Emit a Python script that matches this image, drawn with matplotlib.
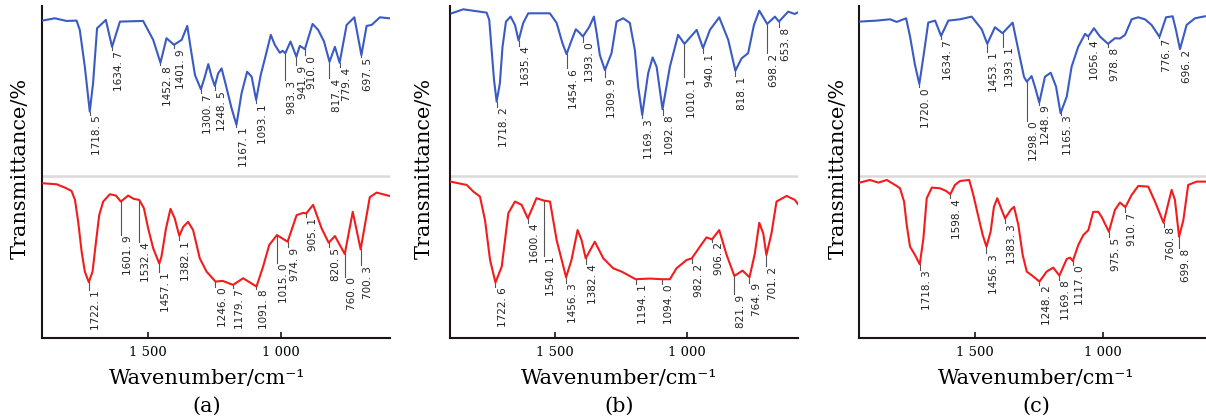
import numpy as np
import matplotlib
matplotlib.use('Agg')
import matplotlib.pyplot as plt

# ---- data (wavenumber in cm-1, transmittance in arbitrary %) ----
# panel (a)
a_top_wn = [1896, 1850, 1806, 1768, 1756, 1737, 1718.5, 1706, 1691, 1658, 1634.7, 1605,
            1518, 1480, 1452.8, 1430, 1401.9, 1373, 1352, 1340, 1323, 1300.7, 1286,
            1273, 1260.5, 1248.5, 1236, 1223, 1207, 1185.5, 1167.1, 1148, 1127, 1110,
            1093.1, 1076, 1060, 1038, 1023, 1004, 994, 983.3, 964, 941.9, 929, 910.0,
            881, 860, 838, 817.4, 797, 779.4, 753, 724, 697.5, 678, 659, 628, 593]
a_top_t = [95.6, 96.3, 95.5, 95.6, 92.8, 81.7, 68.2, 76.8, 93.3, 95.8, 87.7, 95.3,
           95.5, 89.8, 82.9, 90.3, 88.3, 89.8, 94.0, 87.7, 79.2, 74.9, 78.7,
           82.5, 78.7, 75.9, 79.7, 81.2, 76.2, 69.2, 64.2, 73.7, 80.2, 78.7,
           71.7, 79.2, 84.2, 91.3, 88.3, 85.9, 86.5, 85.8, 89.3, 84.7, 88.0, 87.0,
           94.6, 92.8, 89.3, 83.2, 87.7, 82.9, 94.3, 96.6, 85.2, 94.0, 94.3, 96.6, 96.3]
a_top_peaks = [1718.5, 1634.7, 1452.8, 1401.9, 1300.7, 1248.5, 1167.1, 1093.1,
               983.3, 941.9, 910.0, 817.4, 779.4, 697.5]
a_top_text = [67.2, 86.7, 82.2, 87.2, 73.7, 74.6, 63.6, 70.7,
              77.7, 82.2, 85.2, 78.2, 81.7, 84.7]

a_bot_wn = [1894, 1843, 1812, 1787, 1774, 1762, 1749, 1737, 1722.1, 1708, 1695, 1683,
            1668, 1643, 1620, 1601.9, 1574, 1553, 1532.4, 1515, 1499, 1480, 1457.1,
            1449, 1432, 1415, 1399, 1382.1, 1367, 1349, 1330, 1305, 1279.5, 1246.0,
            1219, 1179.7, 1142, 1091.8, 1067, 1044, 1015, 974.9, 941, 916, 905.1,
            879, 847, 820.5, 797, 760, 730, 700.3, 666, 640, 593]
a_bot_t = [46.6, 46.3, 45.3, 44.3, 41.6, 35.0, 26.0, 20.0, 16.8, 20.0, 29.0, 37.0,
           41.1, 43.3, 42.9, 41.1, 42.9, 41.9, 41.6, 39.1, 33.0, 27.0, 22.4,
           24.5, 33.0, 38.9, 36.0, 30.8, 33.5, 35.0, 32.5, 24.0, 20.0, 17.0,
           17.2, 16.0, 18.0, 15.5, 21.5, 28.0, 31.0, 29.0, 37.0, 37.7, 37.5,
           40.1, 33.0, 28.7, 30.7, 25.3, 38.0, 26.7, 42.4, 43.8, 42.8]
a_bot_peaks = [1722.1, 1601.9, 1532.4, 1457.1, 1382.1, 1246.0, 1179.7, 1091.8,
               1015.0, 974.9, 905.1, 820.5, 760.0, 700.3]
a_bot_text = [14.5, 31.0, 29.0, 20.0, 29.5, 15.5, 15.0, 14.8,
              22.5, 27.5, 36.5, 27.3, 18.5, 22.0]

# panel (b)
b_top_wn = [1888, 1844, 1756, 1746, 1737, 1728, 1718.2, 1706, 1696, 1683, 1665.5, 1649,
            1635.4, 1618, 1599, 1517.5, 1492, 1470, 1454.6, 1436, 1419.5, 1404, 1393.0,
            1369, 1351.5, 1341, 1329, 1309.9, 1285, 1266, 1241, 1216, 1197, 1184.5,
            1169.3, 1147, 1130, 1115, 1092.8, 1065, 1034, 1010.1, 964, 940.1, 914,
            879, 845, 818.1, 795, 770, 748, 728, 698.2, 669, 653.8, 619, 594, 569]
b_top_t = [97.8, 99.0, 98.0, 95.8, 86.7, 77.7, 71.2, 76.7, 87.7, 95.3, 96.8, 94.3,
           89.6, 94.9, 97.8, 97.8, 94.9, 88.8, 85.5, 89.6, 93.0, 91.8, 90.8,
           93.7, 96.8, 91.8, 85.2, 80.7, 85.8, 95.3, 96.3, 94.9, 86.7, 75.7,
           67.2, 79.7, 84.5, 81.7, 68.9, 81.7, 91.3, 88.6, 92.8, 87.3, 92.8,
           96.6, 89.8, 80.5, 84.2, 85.8, 94.3, 98.6, 94.6, 96.8, 95.3, 98.3, 97.6, 98.6]
b_top_peaks = [1718.2, 1635.4, 1454.6, 1393.0, 1309.9, 1169.3, 1092.8, 1010.1,
               940.1, 818.1, 698.2, 653.8]
b_top_text = [69.7, 88.0, 81.2, 89.2, 78.5, 66.2, 67.2, 78.5,
              85.9, 78.9, 85.9, 93.6]

b_bot_wn = [1892, 1831, 1806, 1781, 1762, 1743, 1722.6, 1699, 1674, 1649, 1624, 1600.4,
            1568, 1540.1, 1517, 1492, 1456.3, 1436, 1413, 1398, 1382.4, 1348, 1316,
            1279, 1247, 1194.1, 1140, 1094.0, 1065, 1040, 1002, 982.2, 952, 927,
            906.2, 879, 851, 821.9, 791, 764.9, 745, 728, 713, 701.2, 682, 663,
            625, 594, 575]
b_bot_t = [47.1, 46.1, 44.1, 42.6, 35.5, 23.5, 16.7, 21.5, 37.6, 41.1, 40.1, 36.0,
           42.1, 41.4, 41.1, 29.5, 18.3, 23.5, 32.5, 29.5, 24.0, 29.0, 24.0,
           21.0, 20.0, 17.7, 17.9, 17.7, 17.7, 21.0, 23.5, 24.0, 27.5, 30.3,
           29.7, 32.5, 25.0, 18.7, 20.3, 18.3, 25.3, 34.7, 31.5, 25.0, 31.5, 41.1,
           42.8, 41.6, 39.6]
b_bot_peaks = [1722.6, 1600.4, 1540.1, 1456.3, 1382.4, 1194.1, 1094.0, 982.2,
               906.2, 821.9, 764.9, 701.2]
b_bot_text = [15.5, 34.7, 24.7, 16.7, 22.3, 16.3, 16.3, 22.5,
              29.0, 13.3, 16.7, 21.7]

# panel (c)
c_top_wn = [1955, 1887, 1835, 1809, 1772, 1756.5, 1737, 1720.0, 1702, 1685, 1658, 1634.7,
            1606, 1560, 1514.5, 1475, 1453.1, 1423, 1393.1, 1353.5, 1331, 1309, 1298.0,
            1279, 1266, 1248.9, 1226.5, 1204, 1183, 1165.3, 1141, 1122, 1096, 1069,
            1056.4, 1034, 1010.5, 978.8, 951.6, 932, 912, 886, 860, 834, 808, 776.7,
            751, 725, 712, 696.2, 670, 637.5, 598]
c_top_t = [95.3, 95.6, 96.0, 95.2, 96.3, 90.8, 82.2, 76.5, 85.8, 95.0, 95.6, 91.0,
           95.6, 96.0, 96.8, 93.0, 88.6, 93.6, 91.8, 95.0, 86.7, 78.7, 77.2,
           78.9, 75.7, 70.9, 78.7, 79.9, 75.7, 67.7, 72.7, 81.7, 87.7, 91.6,
           90.8, 93.3, 90.8, 88.6, 90.3, 90.2, 91.3, 96.0, 96.6, 96.0, 94.3, 90.7,
           96.6, 96.9, 92.8, 87.0, 94.3, 96.3, 96.9]
c_top_peaks = [1720.0, 1634.7, 1453.1, 1393.1, 1298.0, 1248.9, 1165.3, 1056.4,
               978.8, 776.7, 696.2]
c_top_text = [75.5, 90.0, 86.2, 87.7, 65.5, 70.3, 67.2, 90.0,
              87.7, 90.3, 86.9]

c_bot_wn = [1955, 1914, 1881, 1848, 1809, 1796, 1780, 1769.5, 1756.5, 1737, 1718.3, 1704,
            1691, 1671, 1639, 1615, 1598.4, 1580, 1560, 1524, 1508, 1488, 1471, 1456.3,
            1440, 1427, 1414, 1396.5, 1383.3, 1361, 1348, 1331, 1314, 1298, 1272,
            1248.2, 1220, 1194, 1169.8, 1141, 1128, 1117.0, 1095.6, 1076, 1056, 1037,
            1017, 1004, 975.5, 951.6, 932, 910.7, 886, 860, 821, 794.5, 760.8, 742,
            729, 716, 699.8, 683, 664, 631, 598]
c_bot_t = [46.8, 47.6, 46.8, 47.6, 45.8, 45.1, 41.1, 34.0, 27.5, 25.0, 22.2, 30.0,
           42.1, 45.3, 45.1, 44.3, 43.3, 46.1, 47.3, 47.6, 43.1, 36.5, 31.0, 27.5,
           32.0, 39.5, 42.1, 38.6, 36.0, 38.6, 39.5, 34.0, 25.0, 20.0, 18.5,
           17.0, 20.0, 21.2, 18.8, 23.8, 24.2, 23.2, 28.0, 31.0, 32.5, 38.0,
           38.0, 36.5, 32.0, 38.6, 40.8, 39.4, 43.1, 45.8, 45.6, 41.1, 34.7, 40.6,
           44.6, 41.6, 30.5, 35.5, 46.1, 47.1, 47.1]
c_bot_peaks = [1718.3, 1598.4, 1456.3, 1383.3, 1248.2, 1169.8, 1117.0, 975.5,
               910.7, 760.8, 699.8]
c_bot_text = [20.5, 42.1, 25.5, 34.5, 16.0, 17.5, 22.0, 30.5,
              38.0, 33.5, 27.0]

panel_names = ['(a)', '(b)', '(c)']
tick_values = [1500, 1000]
tick_labels = ['1 500', '1 000']

BLUE = '#3a5bc4'
RED = '#f21c1c'
SERIF = 'DejaVu Serif'

fig = plt.figure(figsize=(12.06, 4.19), dpi=100)

W, H = 1206.0, 419.0
# pixel boxes of the three axes: left, right, xlim, label x positions
layout = [
    (42, 390, (1898, 590), 20, 207, (a_top_wn, a_top_t, a_top_peaks, a_top_text),
     (a_bot_wn, a_bot_t, a_bot_peaks, a_bot_text)),
    (450, 798, (1894, 582), 424, 619, (b_top_wn, b_top_t, b_top_peaks, b_top_text),
     (b_bot_wn, b_bot_t, b_bot_peaks, b_bot_text)),
    (859, 1206, (1957, 594), 838, 1036, (c_top_wn, c_top_t, c_top_peaks, c_top_text),
     (c_bot_wn, c_bot_t, c_bot_peaks, c_bot_text)),
]
top_px, bot_px = 6, 338


def fmt(p):
    # labels in the picture are written like "1718. 5"
    return '{:.1f}'.format(p).replace('.', '. ')


for i, (l, r, xlim, ylab_x, xlab_x, top, bot) in enumerate(layout):
    ax = fig.add_axes([l / W, 1 - bot_px / H, (r - l) / W, (bot_px - top_px) / H])
    ax.set_xlim(*xlim)
    ax.set_ylim(0, 100)
    ax.axhline(48.8, color='#dadada', lw=1.8, zorder=0)

    for (wn, t, peaks, text_y), col in ((top, BLUE), (bot, RED)):
        ax.plot(wn, t, color=col, lw=1.5, solid_joinstyle='round', zorder=3)
        # leader lines and peak labels
        wn_inc = np.array(wn)[::-1]
        t_inc = np.array(t)[::-1]
        for p, ty in zip(peaks, text_y):
            y0 = np.interp(p, wn_inc, t_inc)
            ax.plot([p, p], [y0, ty], color='#555555', lw=0.8, zorder=2)
            ax.annotate(fmt(p), xy=(p, ty), xytext=(1.5, -0.5),
                        textcoords='offset points', rotation=90,
                        ha='left', va='top', fontsize=7.5, color='#222222',
                        family='DejaVu Sans')

    for s in ('top', 'right'):
        ax.spines[s].set_visible(False)
    for s in ('left', 'bottom'):
        ax.spines[s].set_linewidth(1.5)
        ax.spines[s].set_color('#1c1414')
    ax.set_yticks([])
    ax.set_xticks(tick_values)
    ax.set_xticklabels(tick_labels, family=SERIF, fontsize=9.5)
    ax.tick_params(axis='x', direction='in', length=4, width=1.2, pad=6,
                   color='#1c1414')

    fig.text(ylab_x / W, 1 - 168 / H, 'Transmittance/%', rotation=90,
             ha='center', va='center', family=SERIF, fontsize=15)
    fig.text(xlab_x / W, 1 - 378 / H, 'Wavenumber/cm\u207b\u00b9',
             ha='center', va='center', family=SERIF, fontsize=15)
    fig.text(xlab_x / W, 1 - 406 / H, panel_names[i],
             ha='center', va='center', family=SERIF, fontsize=15)

fig.savefig('out.png', dpi=100)
